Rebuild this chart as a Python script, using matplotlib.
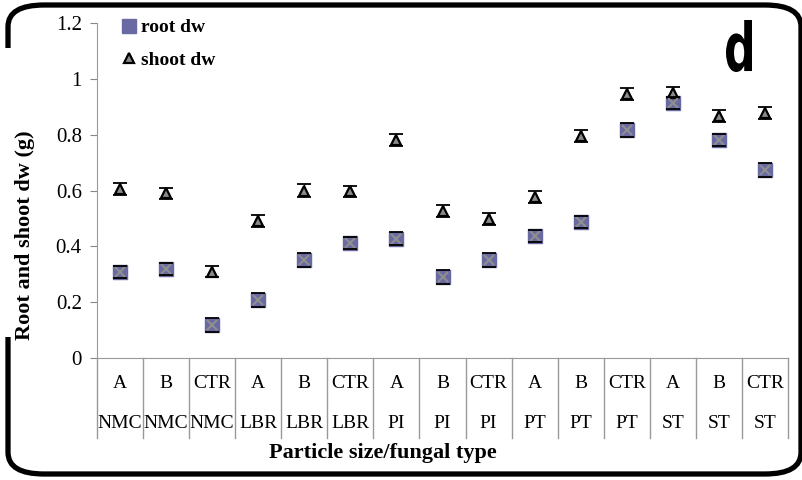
import matplotlib
matplotlib.use("Agg")
import matplotlib.pyplot as plt
import matplotlib.patches as patches
import matplotlib.transforms as mtransforms
from matplotlib.textpath import TextPath
from matplotlib.font_manager import FontProperties

plt.rcParams['font.family'] = ['Liberation Serif', 'DejaVu Serif']

# data
fungal = ["A", "B", "CTR", "A", "B", "CTR", "A", "B", "CTR", "A", "B", "CTR", "A", "B", "CTR"]
particle = ["NMC", "NMC", "NMC", "LBR", "LBR", "LBR", "PI", "PI", "PI",
            "PT", "PT", "PT", "ST", "ST", "ST"]
root_dw = [0.308, 0.319, 0.118, 0.208, 0.351, 0.412, 0.428, 0.290, 0.351,
           0.437, 0.487, 0.817, 0.913, 0.780, 0.673]
root_err = [0.022, 0.022, 0.024, 0.024, 0.024, 0.022, 0.022, 0.024, 0.024,
            0.022, 0.022, 0.024, 0.022, 0.022, 0.024]
shoot_dw = [0.605, 0.590, 0.310, 0.490, 0.600, 0.597, 0.782, 0.527, 0.498,
            0.577, 0.795, 0.945, 0.950, 0.867, 0.877]
shoot_err = [0.021, 0.020, 0.020, 0.022, 0.022, 0.020, 0.022, 0.020, 0.020,
             0.022, 0.022, 0.022, 0.020, 0.022, 0.022]

fig = plt.figure(figsize=(8.02, 4.80), dpi=100)
fig.patch.set_facecolor('white')
ax = fig.add_axes([0.121, 0.254, 0.8615, 0.698])

x = list(range(len(fungal)))

# root dw: blue-grey squares with grey cross; caps drawn above the square
_, caps, bars = ax.errorbar(x, root_dw, yerr=root_err, fmt='none', ecolor='black',
                            elinewidth=0.8, capsize=4.8, capthick=1.3, zorder=2)
for c in caps:
    c.set_zorder(5)
ax.plot(x, root_dw, linestyle='none', marker='s', markersize=9.5,
        markerfacecolor='#6a6aa3', markeredgecolor='#6a6aa3', zorder=3,
        label='root dw')
ax.plot(x, root_dw, linestyle='none', marker='x', markersize=6.5,
        markeredgecolor='#8f8f8f', markeredgewidth=1.5, zorder=4)

# shoot dw: triangles
ax.errorbar(x, shoot_dw, yerr=shoot_err, fmt='none', ecolor='black',
            elinewidth=1, capsize=4.8, capthick=1.3, zorder=2)
ax.plot(x, shoot_dw, linestyle='none', marker='^', markersize=6.5,
        markerfacecolor='#8a8a8a', markeredgecolor='black',
        markeredgewidth=1.6, zorder=3, label='shoot dw')

ax.set_xlim(-0.5, len(fungal) - 0.5)
ax.set_ylim(0, 1.2)
ax.set_yticks([0, 0.2, 0.4, 0.6, 0.8, 1, 1.2])
ax.set_yticklabels(["0", "0.2", "0.4", "0.6", "0.8", "1", "1.2"], fontsize=15)
ax.tick_params(axis='y', direction='out', length=5, color='#888888', pad=6)
ax.set_xticks([])

for side in ['top', 'right']:
    ax.spines[side].set_visible(False)
ax.spines['left'].set_color('#999999')
ax.spines['bottom'].set_color('#999999')

# two-row category labels and separators
trans = mtransforms.blended_transform_factory(ax.transData, ax.transAxes)
for i in x:
    ax.text(i, -0.075, fungal[i], transform=trans, ha='center', va='center', fontsize=14)
    ax.text(i, -0.194, particle[i], transform=trans, ha='center', va='center', fontsize=14)
for i in range(len(fungal) + 1):
    ax.plot([i - 0.5, i - 0.5], [0, -0.239], transform=trans, color='#999999',
            linewidth=1, clip_on=False)

leg = ax.legend(loc='upper left', bbox_to_anchor=(0.005, 1.065), frameon=False,
                prop={'weight': 'bold', 'size': 14}, handletextpad=0.1,
                labelspacing=0.75, handlelength=1.1)

fig.text(383 / 802, 1 - 453 / 480, "Particle size/fungal type", ha='center', va='center',
         fontsize=16, fontweight='bold')

# rounded frame
frame = patches.FancyBboxPatch((8 / 802, 6 / 480), 793 / 802, 469 / 480,
                               boxstyle="round,pad=0,rounding_size=0.045",
                               transform=fig.transFigure, facecolor='none',
                               edgecolor='black', linewidth=3.8, zorder=0)
fig.patches.append(frame)
# white gap behind the y label
fig.patches.append(patches.Rectangle((0, 1 - 337 / 480), 22 / 802, 289 / 480,
                                     transform=fig.transFigure, facecolor='white',
                                     edgecolor='none', zorder=1))
fig.text(25 / 802, 1 - 235 / 480, "Root and shoot dw (g)", rotation=90, ha='center',
         va='center', fontsize=16, fontweight='bold', zorder=2)

# condensed panel letter "d", squeezed into its box (pixels: x 726-752, y 20-72)
tp = TextPath((0, 0), "d", size=1, prop=FontProperties(family='DejaVu Sans', weight='bold'))
ext = tp.get_extents()
x0, x1, ytop, ybot = 726, 752, 20, 72
fit = (mtransforms.Affine2D()
       .translate(-ext.x0, -ext.y0)
       .scale((x1 - x0) / 802 / ext.width, (ybot - ytop) / 480 / ext.height)
       .translate(x0 / 802, 1 - ybot / 480))
fig.patches.append(patches.PathPatch(fit.transform_path(tp), transform=fig.transFigure,
                                     facecolor='black', edgecolor='none'))

fig.savefig("out.png", dpi=100)
